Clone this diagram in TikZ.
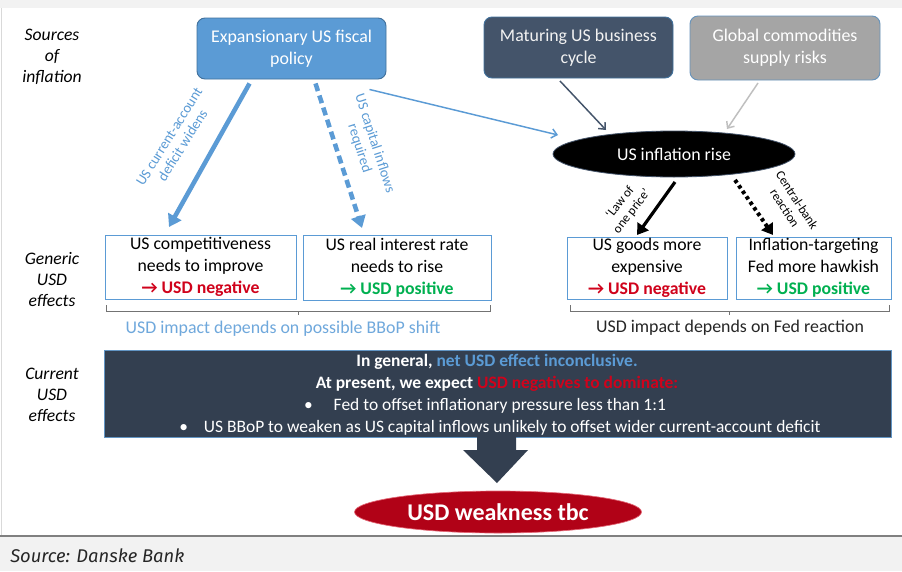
\documentclass[tikz,border=0pt]{standalone}
\usepackage{fontspec}
\setmainfont{Carlito}
\newfontfamily\footfont{Fira Sans}
\usetikzlibrary{arrows.meta,shapes.geometric}
\definecolor{fblue}{HTML}{5B9BD5}
\definecolor{fblueb}{HTML}{41719C}
\definecolor{navy}{HTML}{44546A}
\definecolor{navyd}{HTML}{333F50}
\definecolor{gbox}{HTML}{A5A5A5}
\definecolor{dred}{HTML}{D0021B}
\definecolor{dgreen}{HTML}{00B050}
\definecolor{lblue}{HTML}{6FA8DC}
\definecolor{bgray}{HTML}{F2F2F2}
\tikzset{
  srcbox/.style={rounded corners=6pt, draw=fblueb, line width=0.7pt, text=white, align=center,
    font=\fontsize{13.4}{16.5}\selectfont, inner sep=0pt},
  effbox/.style={draw=fblue, line width=0.6pt, fill=white, align=center,
    font=\fontsize{13.3}{16.5}\selectfont, inner sep=0pt},
  lefttxt/.style={font=\fontsize{13.2}{15.75}\selectfont\itshape, align=center, inner sep=0pt},
  arrlbl/.style={font=\fontsize{10.8}{12}\selectfont, align=center, inner sep=0pt},
  boxline/.style={font=\fontsize{13.1}{14}\selectfont, text=white, inner sep=0pt, anchor=base},
  bracket/.style={draw=black!55, line width=0.6pt},
  thinarr/.style={line width=1.1pt, -{Straight Barb[length=4pt,width=7pt]}},
}
\begin{document}
\begin{tikzpicture}[x=0.75pt,y=-0.75pt]
\useasboundingbox (0,0) rectangle (902,571);
% frame
\fill[bgray] (0,0) rectangle (902,8);
\fill[white] (0,8) rectangle (902,536);
\draw[black!15, line width=0.6pt] (1.5,8) -- (1.5,536);
\fill[bgray] (0,536) rectangle (902,571);
\draw[black!50, line width=0.8pt] (0,536) -- (902,536);
\node[font=\footfont\itshape\fontsize{13.8}{15}\selectfont, anchor=base west, text=black!85, inner sep=0pt] (src) at (10,562) {Source: Danske Bank};

% left labels
\node[lefttxt] (lsrc) at (52,57) {Sources\\of\\inflation};
\node[lefttxt] (lgen) at (52,280) {Generic\\USD\\effects};
\node[lefttxt] (lcur) at (52,395) {Current\\USD\\effects};

% sources
\node[srcbox, fill=fblue, minimum width=141.75pt, minimum height=45.75pt] (fisc) at (291.5,48.5) {Expansionary US fiscal\\policy};
\node[srcbox, fill=navy, text=white!90!gray, minimum width=141.75pt, minimum height=45.75pt] (mat) at (578.5,47.5) {Maturing US business\\cycle};
\node[srcbox, fill=gbox, draw=fblue!70!gray, minimum width=142.5pt, minimum height=48pt] (glob) at (785,48) {Global commodities\\supply risks};

% inflation ellipse
\node[ellipse, fill=black, draw=navy, line width=0.6pt, text=white, minimum width=181.5pt, minimum height=34.5pt, inner sep=0pt, font=\fontsize{13.4}{14}\selectfont] (infl) at (674,154) {US inflation rise};

% effect boxes
\node[effbox, minimum width=143.25pt, minimum height=48pt] (b1) at (200.5,267) {US competitiveness\\needs to improve\\\textcolor{dred}{\textbf{→ USD negative}}};
\node[effbox, minimum width=141pt, minimum height=48.75pt] (b2) at (397,267.5) {US real interest rate\\needs to rise\\\textcolor{dgreen}{\textbf{→ USD positive}}};
\node[effbox, minimum width=120pt, minimum height=46.5pt] (b3) at (647,268) {US goods more\\expensive\\\textcolor{dred}{\textbf{→ USD negative}}};
\node[effbox, minimum width=116.25pt, minimum height=46.5pt] (b4) at (813.5,268) {Inflation-targeting\\Fed more hawkish\\\textcolor{dgreen}{\textbf{→ USD positive}}};

% brackets
\coordinate (bl1) at (106,305); \coordinate (bl2) at (490,305);
\coordinate (br1) at (570,305); \coordinate (br2) at (889,305);
\draw[bracket] (bl1) -- ++(0,6) -- (298,311) -- ++(0,4) ++(0,-4) -- (490,311) -- (bl2);
\draw[bracket] (br1) -- ++(0,6) -- (729,311) -- ++(0,4) ++(0,-4) -- (889,311) -- (br2);
\node[font=\fontsize{13.4}{14}\selectfont, text=lblue, inner sep=0pt] (imp1) at (283,329) {USD impact depends on possible BBoP shift};
\node[font=\fontsize{13.4}{14}\selectfont, text=black!85, inner sep=0pt] (imp2) at (730,328) {USD impact depends on Fed reaction};

% big box
\node[fill=navyd, draw=fblue!80!gray, line width=0.6pt, minimum width=590.25pt, minimum height=65.25pt, inner sep=0pt] (big) at (497.5,393.5) {};
\node[boxline] (t1) at (497,366) {\textbf{In general, \textcolor{fblue}{net USD effect inconclusive.}}};
\node[boxline] (t2) at (497,388) {\textbf{At present, we expect \textcolor{dred}{USD negatives to dominate:}}};
\node[boxline] (t3) at (485,410) {•\hspace{1.2em}Fed to offset inflationary pressure less than 1:1};
\node[boxline] (t4) at (500,432) {•\hspace{0.9em}US BBoP to weaken as US capital inflows unlikely to offset wider current-account deficit};

% big arrow
\fill[navyd] (477,437) -- (516,437) -- (516,450) -- (528,450) -- (497,483) -- (463,450) -- (477,450) -- cycle;
\coordinate (bigtip) at (497,483);

% result ellipse
\node[ellipse, fill=dred!85!black, draw=dred!60!white, line width=0.5pt, text=white, minimum width=215.25pt, minimum height=31.5pt, inner sep=0pt, font=\fontsize{18}{20}\selectfont\bfseries] (weak) at (498,512) {USD weakness tbc};

% arrows from sources
\draw[fblue, line width=3.4pt, -{Triangle[length=9pt,width=11pt]}] (fisc.south west) ++(53,4) coordinate (f1) -- (169,227) coordinate (e1);
\draw[fblue, line width=3.4pt, dash pattern=on 6pt off 3.5pt, -{Triangle[length=9pt,width=11pt]}] (fisc.south) ++(24,4) coordinate (f2) -- (362,228) coordinate (e2);
\draw[fblue, thinarr] (fisc.south east) ++(-17,10) -- (558,135);
\draw[navy, thinarr] (560,81) -- (606,130);
\draw[black!25, thinarr] (758,83) -- (727,129);

% arrows from inflation
\draw[black, line width=2.4pt, -{Triangle[length=8pt,width=10pt]}] (675,182) -- (637,235);
\draw[black, line width=3pt, dash pattern=on 2.6pt off 2.4pt, -{Triangle[length=8pt,width=10pt]}] (735,180) -- (773,235);

% arrow labels
\node[arrlbl, text=fblue, rotate=58] (l1) at (176,141) {US current-account\\deficit widens};
\node[arrlbl, text=fblue, rotate=-72] (l2) at (367,146) {US capital inflows\\required};
\node[arrlbl, rotate=52, font=\fontsize{9.6}{11}\selectfont] (l3) at (626,207) {‘Law of\\one price’};
\node[arrlbl, rotate=-57, font=\fontsize{9.6}{11}\selectfont] (l4) at (791,204) {Central-bank\\reaction};
\end{tikzpicture}
\end{document}
